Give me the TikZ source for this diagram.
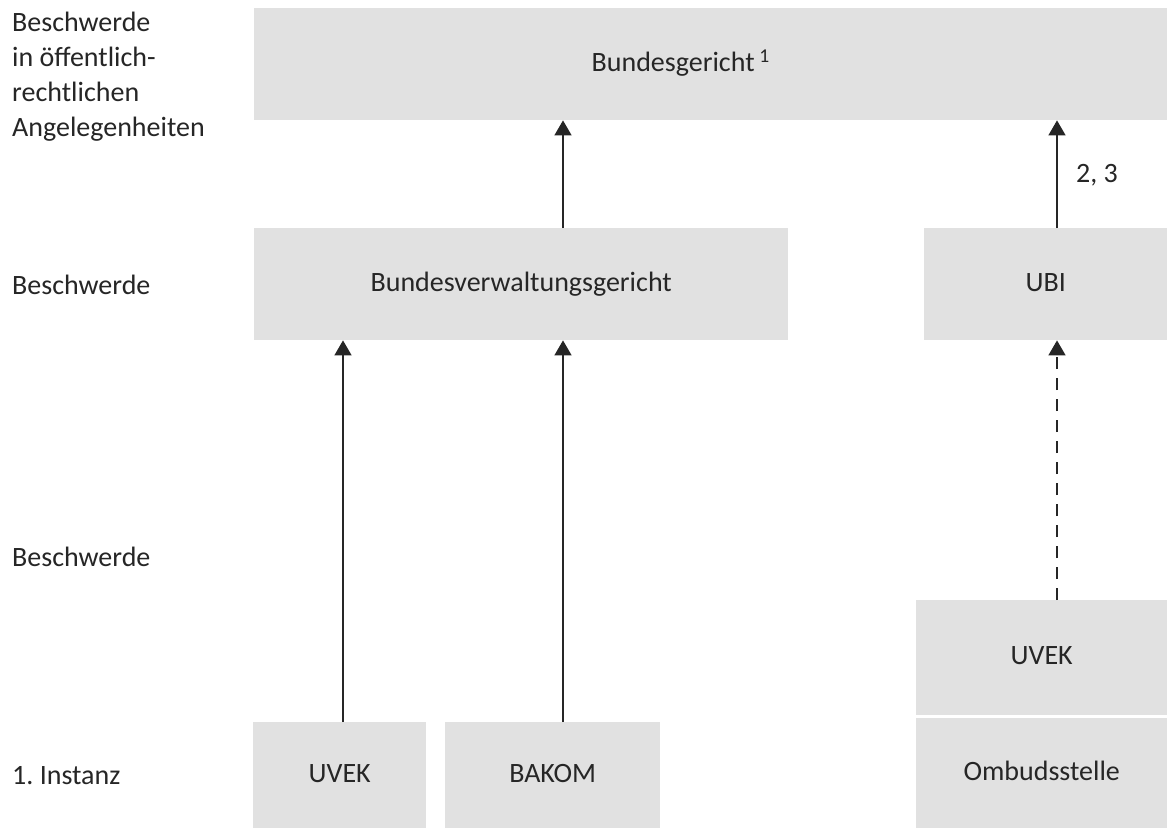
\documentclass[tikz,border=0pt]{standalone}
\usepackage{fontspec}
\setmainfont{Carlito}
\usetikzlibrary{arrows.meta}
\definecolor{boxgray}{HTML}{E1E1E1}
\definecolor{ink}{HTML}{262626}
\frenchspacing
\begin{document}
\begin{tikzpicture}[x=1pt,y=-1pt,
  font=\fontsize{28}{35}\selectfont, text=ink,
  box/.style={fill=boxgray, draw=none, inner sep=0pt, anchor=north west,
    align=center, text height=20pt, text depth=6pt},
  arr/.style={draw=ink, line width=1.5pt, -{Triangle[width=17pt,length=15pt]}},
  lab/.style={anchor=base west, inner sep=0pt, align=left}]
\useasboundingbox (0,0) rectangle (1167,828);
\fill[white] (0,0) rectangle (1167,828);

\node[box, minimum width=913pt, minimum height=112pt] (bg) at (254,8) {\hspace*{-60pt}Bundesgericht\,\textsuperscript{1}};
\node[box, minimum width=534pt, minimum height=112pt] (bvg) at (254,228) {Bundesverwaltungsgericht};
\node[box, minimum width=243pt, minimum height=112pt] (ubi) at (924,228) {UBI};
\node[box, minimum width=251pt, minimum height=115pt] (uvekR) at (916,600) {UVEK};
\node[box, minimum width=251pt, minimum height=110pt] (omb) at (916,718) {Ombudsstelle};
\node[box, minimum width=173pt, minimum height=106pt] (uvekL) at (253,722) {UVEK};
\node[box, minimum width=215pt, minimum height=106pt] (bakom) at (445,722) {BAKOM};

\coordinate (x1) at (343,0);
\coordinate (x2) at (563,0);
\coordinate (x3) at (1057,0);
\draw[arr] (uvekL.north -| x1) -- (bvg.south -| x1);
\draw[arr] (bakom.north -| x2) -- (bvg.south -| x2);
\draw[arr] (bvg.north -| x2) -- (bg.south -| x2);
\draw[arr] (ubi.north -| x3) -- (bg.south -| x3);
\draw[arr, dash pattern=on 12pt off 9pt] (uvekR.north -| x3) -- (ubi.south -| x3);

\node[lab] (n23) at (1076,182) {2, 3};
\node[lab, anchor=north west] (l1) at (12,12) {Beschwerde\\in öffentlich-\\rechtlichen\\Angelegenheiten};
\node[lab] (l2) at (12,294) {Beschwerde};
\node[lab] (l3) at (12,566) {Beschwerde};
\node[lab] (l4) at (12,784) {1. Instanz};
\end{tikzpicture}
\end{document}
